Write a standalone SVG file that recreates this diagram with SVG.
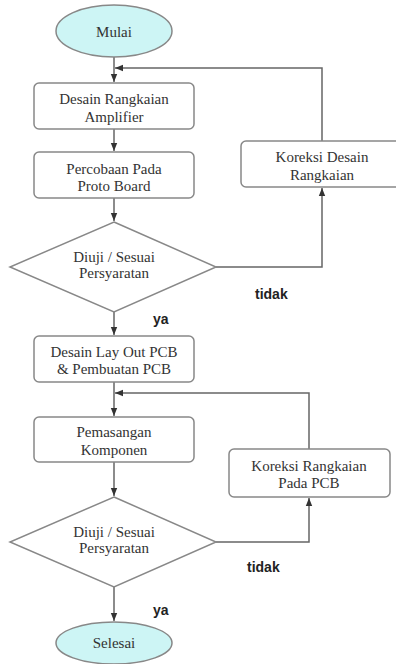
<svg xmlns="http://www.w3.org/2000/svg" width="396" height="664" viewBox="0 0 396 664">
<defs>
<marker id="ah" markerUnits="userSpaceOnUse" markerWidth="8" markerHeight="8" viewBox="0 0 8 8" refX="8" refY="4" orient="auto">
<path d="M0,0.8 L8,4 L0,7.2 Z" fill="#333"/>
</marker>
<style>
.t{font-family:"Liberation Serif","Times New Roman",serif;font-size:15px;fill:#333;text-anchor:middle}
.l{font-family:"Liberation Sans",Arial,sans-serif;font-size:14px;font-weight:bold;fill:#222}
.box{fill:#fff;stroke:#888;stroke-width:1.5}
.term{fill:#cdf5f5;stroke:#888;stroke-width:1.5}
.c{fill:none;stroke:#666;stroke-width:1.5}
</style>
</defs>
<rect width="396" height="664" fill="#fff"/>
<g id="connectors">
<path class="c" d="M114,57 V82" marker-end="url(#ah)"/>
<path class="c" d="M322,141 V68 H115" marker-end="url(#ah)"/>
<path class="c" d="M114,129 V151" marker-end="url(#ah)"/>
<path class="c" d="M114,198 V221" marker-end="url(#ah)"/>
<path class="c" d="M216,267 H322 V188" marker-end="url(#ah)"/>
<path class="c" d="M114,312 V335" marker-end="url(#ah)"/>
<path class="c" d="M114,382 V416" marker-end="url(#ah)"/>
<path class="c" d="M309,449 V393 H115" marker-end="url(#ah)"/>
<path class="c" d="M114,462 V496" marker-end="url(#ah)"/>
<path class="c" d="M216,542 H309 V498" marker-end="url(#ah)"/>
<path class="c" d="M114,587 V621" marker-end="url(#ah)"/>
<text class="l" x="255" y="299">tidak</text>
<text class="l" x="153" y="324">ya</text>
<text class="l" x="247" y="572">tidak</text>
<text class="l" x="153" y="615">ya</text>
</g>
<g id="mulai">
<ellipse class="term" cx="114" cy="31" rx="58" ry="26"/>
<text class="t" x="114" y="37">Mulai</text>
</g>
<g id="desain-rangkaian">
<rect class="box" x="34" y="83" width="160" height="46" rx="5"/>
<text class="t" x="114" y="104">Desain Rangkaian</text>
<text class="t" x="114" y="122">Amplifier</text>
</g>
<g id="percobaan">
<rect class="box" x="34" y="152" width="160" height="46" rx="5"/>
<text class="t" x="114" y="174">Percobaan Pada</text>
<text class="t" x="114" y="191">Proto Board</text>
</g>
<g id="koreksi-desain">
<rect class="box" x="241" y="141" width="162" height="46" rx="5"/>
<text class="t" x="322" y="162">Koreksi Desain</text>
<text class="t" x="322" y="180">Rangkaian</text>
</g>
<g id="diuji1">
<polygon class="box" points="114,222 216,267 114,312 10,267"/>
<text class="t" x="114" y="262">Diuji / Sesuai</text>
<text class="t" x="114" y="278">Persyaratan</text>
</g>
<g id="layout-pcb">
<rect class="box" x="34" y="336" width="160" height="46" rx="5"/>
<text class="t" x="114" y="357">Desain Lay Out PCB</text>
<text class="t" x="114" y="374">&amp; Pembuatan PCB</text>
</g>
<g id="pemasangan">
<rect class="box" x="34" y="417" width="160" height="45" rx="5"/>
<text class="t" x="114" y="437">Pemasangan</text>
<text class="t" x="114" y="455">Komponen</text>
</g>
<g id="koreksi-rangkaian">
<rect class="box" x="229" y="449" width="161" height="48" rx="5"/>
<text class="t" x="309" y="471">Koreksi Rangkaian</text>
<text class="t" x="309" y="488">Pada PCB</text>
</g>
<g id="diuji2">
<polygon class="box" points="114,497 216,542 114,587 10,542"/>
<text class="t" x="114" y="537">Diuji / Sesuai</text>
<text class="t" x="114" y="553">Persyaratan</text>
</g>
<g id="selesai">
<ellipse class="term" cx="114" cy="643" rx="58" ry="21"/>
<text class="t" x="114" y="648">Selesai</text>
</g>
</svg>
